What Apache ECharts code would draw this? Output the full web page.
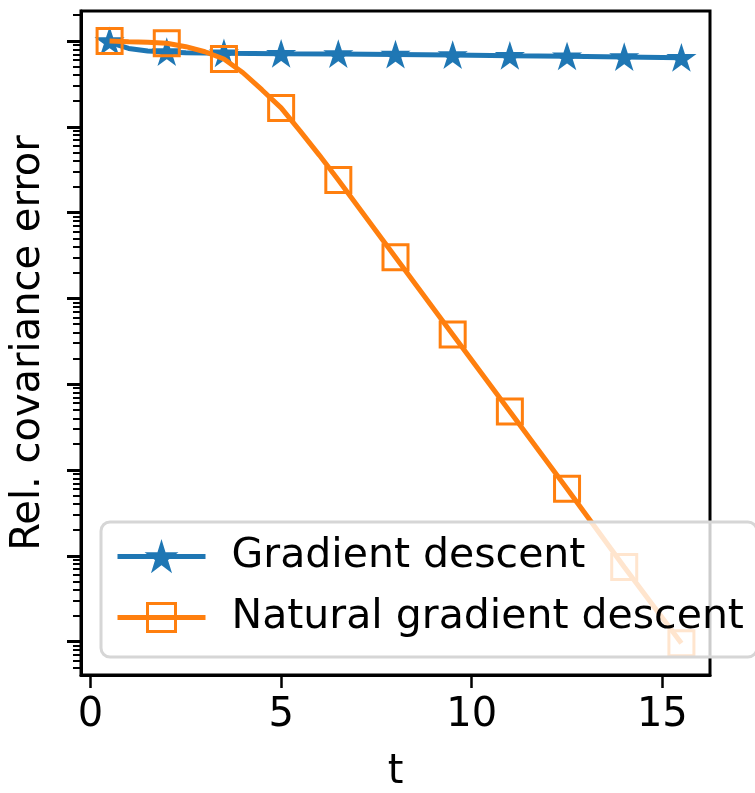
<!DOCTYPE html>
<html>
<head>
<meta charset="utf-8">
<script src="https://cdn.jsdelivr.net/npm/echarts@6/dist/echarts.min.js"></script>
<style>
  html, body { margin: 0; padding: 0; background: #fff; }
  #chart { width: 755px; height: 793px; }
</style>
</head>
<body>
<div id="chart"></div>
<script>
// time points and relative covariance error
var gdT = [0.5, 0.75, 1, 1.5, 2, 2.5, 3, 3.5, 5, 6.5, 8, 9.5, 11, 12.5, 14, 15.5];
var gdErr = [1.0, 0.89, 0.82, 0.766, 0.745, 0.73, 0.724, 0.72, 0.711, 0.706, 0.697, 0.687, 0.675, 0.664, 0.652, 0.64];

var ngdT = [0.5, 1, 1.5, 2, 2.5, 3, 3.5, 4, 4.5, 5, 5.5, 6, 6.5, 8, 9.5, 11, 12.5, 14, 15.5];
var ngdErr = [1.0, 0.982, 0.966, 0.94, 0.859, 0.75, 0.617, 0.427, 0.269, 0.166, 0.0891, 0.0468, 0.024,
  3.02e-3, 3.8e-4, 4.79e-5, 6.03e-6, 7.41e-7, 9.55e-8];

// markers are drawn every 1.5 time units
var markT = [0.5, 2, 3.5, 5, 6.5, 8, 9.5, 11, 12.5, 14, 15.5];

var xTicks = [0, 5, 10, 15];
var yDecades = [-7, -6, -5, -4, -3, -2, -1, 0];

var BLUE = '#1f77b4', ORANGE = '#ff7f0e';
var FONT = 'DejaVu Sans';
var STAR = 'path://M0,-1L0.2245,-0.309L0.951,-0.309L0.363,0.118L0.588,0.809L0,0.382L-0.588,0.809L-0.363,0.118L-0.951,-0.309L-0.2245,-0.309Z';

var yMin = -7.39, yMax = 0.35;

// minor ticks like matplotlib's log locator (2..9 x 10^k)
var yMinor = [];
for (var e = -8; e <= 0; e++) {
  for (var k = 2; k <= 9; k++) {
    var v = e + Math.log10(k);
    if (v > yMin && v < yMax) yMinor.push(v);
  }
}

function toData(ts, vals) {
  return ts.map(function (t, i) {
    var item = { value: [t, Math.log10(vals[i])] };
    if (markT.indexOf(t) < 0) item.symbol = 'none';
    return item;
  });
}

var chart = echarts.init(document.getElementById('chart'));
chart.setOption({
  animation: false,
  grid: {
    left: 81, right: 45, top: 11, bottom: 118,
    show: true, borderColor: '#000', borderWidth: 3,
    outerBoundsMode: 'none'
  },
  legend: {
    orient: 'vertical',
    left: 101, top: 522,
    padding: [14, 13, 19, 14],
    itemWidth: 88, itemHeight: 35, itemGap: 20,
    backgroundColor: 'rgba(255,255,255,0.8)',
    borderColor: '#d6d6d6', borderWidth: 3, borderRadius: 9,
    textStyle: { fontFamily: FONT, fontSize: 41, color: '#000', lineHeight: 40, padding: [0, 0, 0, 21] },
    data: [
      { name: 'Gradient descent',
        itemStyle: { color: BLUE, borderColor: BLUE, borderWidth: 2 },
        lineStyle: { color: BLUE, width: 5 } },
      { name: 'Natural gradient descent',
        itemStyle: { color: 'rgba(255,255,255,0)', borderColor: ORANGE, borderWidth: 3 },
        lineStyle: { color: ORANGE, width: 5 } }
    ]
  },
  xAxis: {
    type: 'value', min: -0.25, max: 16.25,
    name: 't', nameLocation: 'middle', nameGap: 78,
    nameTextStyle: { fontFamily: FONT, fontSize: 40, color: '#000' },
    axisLine: { show: true, onZero: false, lineStyle: { color: '#000', width: 3 } },
    axisTick: { show: true, customValues: xTicks, length: 13, lineStyle: { color: '#000', width: 2.5 } },
    axisLabel: { customValues: xTicks, margin: 21, fontFamily: FONT, fontSize: 40, color: '#000' },
    splitLine: { show: false }
  },
  yAxis: [
    {
      type: 'value', min: yMin, max: yMax,
      name: 'Rel. covariance error', nameLocation: 'middle', nameGap: 32,
      nameTextStyle: { fontFamily: FONT, fontSize: 40, color: '#000' },
      axisLine: { show: true, onZero: false, lineStyle: { color: '#000', width: 3 } },
      axisTick: { show: true, customValues: yDecades, length: 14, lineStyle: { color: '#000', width: 3 } },
      axisLabel: { show: false },
      splitLine: { show: false }
    },
    {
      type: 'value', min: yMin, max: yMax, position: 'left',
      axisLine: { show: false, onZero: false },
      axisTick: { show: true, customValues: yMinor, length: 8, lineStyle: { color: '#000', width: 2 } },
      axisLabel: { show: false },
      splitLine: { show: false }
    }
  ],
  series: [
    {
      name: 'Gradient descent', type: 'line',
      data: toData(gdT, gdErr),
      symbol: STAR, symbolSize: 24, symbolKeepAspect: true, showAllSymbol: true,
      lineStyle: { color: BLUE, width: 5 },
      itemStyle: { color: BLUE, borderColor: BLUE, borderWidth: 2 },
      z: 2
    },
    {
      name: 'Natural gradient descent', type: 'line',
      data: toData(ngdT, ngdErr),
      symbol: 'rect', symbolSize: 25, showAllSymbol: true,
      lineStyle: { color: ORANGE, width: 5 },
      itemStyle: { color: 'rgba(255,255,255,0)', borderColor: ORANGE, borderWidth: 3 },
      z: 3
    }
  ]
});
</script>
</body>
</html>
